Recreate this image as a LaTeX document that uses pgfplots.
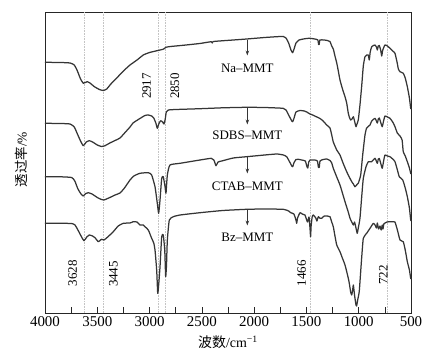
\documentclass[border=0pt]{standalone}
\usepackage{fontspec}
\setmainfont{Liberation Serif}
\newfontfamily\cjk{Noto Sans CJK SC}
\usepackage{pgfplots}
\pgfplotsset{compat=1.18}
\usetikzlibrary{arrows.meta}
\definecolor{curve}{HTML}{353535}
\definecolor{guide}{HTML}{C4C4C4}

\begin{document}
\begin{tikzpicture}
\begin{axis}[
 scale only axis, width=366bp, height=301bp,
 x dir=reverse, y dir=reverse,
 xmin=500, xmax=4000, ymin=12, ymax=313,
 xtick={500,1000,...,4000}, minor xtick={750,1250,...,3750},
 ytick=\empty,
 tick align=inside, xtick pos=bottom,
 major tick length=6bp, minor tick length=6bp,
 tick style={black!85, line width=0.6bp},
 axis line style={black!85, line width=0.6bp},
 every tick label/.append style={font=\fontsize{15}{17}\selectfont},
 /pgf/number format/assume math mode=true,
 /pgf/number format/1000 sep={},
 xlabel={{\cjk 波数}/cm\textsuperscript{−1}},
 ylabel={{\cjk 透过率}/\%},
 xlabel style={font=\fontsize{14}{16}\selectfont, at={(axis description cs:0.5,-0.0963)}, anchor=center},
 ylabel style={font=\fontsize{13.5}{16}\selectfont, at={(axis description cs:-0.064,0.51)}, anchor=center},
 clip=false,
]
% guide lines
\addplot[guide, densely dotted, line width=0.6bp] coordinates {(3628,12) (3628,313)};
\addplot[guide, densely dotted, line width=0.6bp] coordinates {(3445,12) (3445,313)};
\addplot[guide, densely dotted, line width=0.6bp] coordinates {(2917,12) (2917,313)};
\addplot[guide, densely dotted, line width=0.6bp] coordinates {(2850,12) (2850,313)};
\addplot[guide, densely dotted, line width=0.6bp] coordinates {(1466,12) (1466,313)};
\addplot[guide, densely dotted, line width=0.6bp] coordinates {(722,12) (722,313)};

% Na-MMT
\addplot[curve, line width=1.25bp, line join=round, smooth, tension=0.3] coordinates {
(4000,62.3) (3850,62.5) (3760,63) (3720,65) (3690,71) (3660,79) (3634,83.3) (3615,82.5) (3596,81.7) (3570,83) (3530,86.5) (3480,89.5) (3442,90.5) (3410,89) (3370,84) (3314,78) (3250,71) (3187,65) (3120,60) (3060,55) (3000,52.5) (2920,50.5) (2872,49.3) (2858,48.5) (2845,47.3) (2800,46.5) (2680,45.3) (2520,43.5) (2410,41.7) (2400,43) (2390,41.5) (2200,40) (2071,39) (1900,37.5) (1784,36.7) (1720,36.5) (1695,38) (1670,43) (1648,50) (1632,52.7) (1618,49) (1600,43) (1570,40) (1545,39.3) (1500,38.5) (1466,38.3) (1420,39) (1390,40) (1384,44.5) (1377,44.5) (1372,40) (1330,40) (1300,40.5) (1275,41.5) (1258,46) (1243,49) (1227,56) (1210,63) (1195,71) (1179,80) (1155,89) (1131,96.7) (1115,103) (1100,113) (1090,117) (1077,120) (1064,119) (1051,116.7) (1040,121) (1026,126.7) (1020,125) (1004,120) (988,105) (972,86.7) (956,66) (940,56.7) (924,55) (908,55) (899,60) (890,52) (876,46.7) (860,45.5) (844,45) (830,47) (822,50) (813,46) (803,45.5) (790,50) (780,56) (770,50) (749,45) (725,46) (701,48.3) (675,51) (653,53.3) (631,63.3) (621,69) (605,71.7) (574,73.3) (555,78) (535,86.7) (515,98) (503,108.3) (500,109)
};
% SDBS-MMT
\addplot[curve, line width=1.25bp, line join=round, smooth, tension=0.3] coordinates {
(4000,123.3) (3850,123.5) (3760,124) (3720,127) (3690,134) (3660,141) (3634,145.7) (3605,142) (3576,140.7) (3545,142) (3500,145) (3460,146.5) (3426,145.7) (3380,143) (3330,140.5) (3283,138) (3230,132) (3187,127) (3158,123) (3100,119) (3044,115.5) (3012,115) (2980,116) (2960,118) (2940,123) (2926,128.3) (2912,124) (2894,120.7) (2875,122) (2862,124) (2850,119) (2840,112) (2820,110) (2750,109.5) (2518,108.7) (2300,107.8) (2071,107.3) (1900,107.5) (1722,108.3) (1695,110) (1665,116) (1640,121) (1631,121.7) (1618,118) (1600,112) (1561,110.5) (1520,111) (1497,112) (1466,114) (1440,115) (1400,117) (1370,118.5) (1340,121) (1306,125) (1275,128) (1258,135) (1243,142) (1210,150) (1179,155) (1150,163) (1115,171.7) (1090,177) (1067,181.7) (1051,184) (1036,186.7) (1020,185) (1004,183.3) (981,175) (962,155) (940,135) (924,128) (892,125) (876,121) (844,118.3) (822,123) (813,119) (803,118) (785,124) (775,126.7) (760,120) (749,116) (725,117) (701,118.3) (675,122) (653,126.7) (631,133) (605,136) (585,140) (574,151.7) (555,156) (535,161.7) (515,168) (503,173.3) (500,174)
};
% CTAB-MMT
\addplot[curve, line width=1.25bp, line join=round, smooth, tension=0.3] coordinates {
(4000,176.7) (3850,176.8) (3745,177.5) (3715,181) (3685,189) (3655,194) (3634,196) (3610,193.5) (3586,192.7) (3550,194) (3500,197.5) (3460,199.5) (3436,200) (3390,198) (3330,195) (3283,193) (3240,188) (3187,180) (3150,176) (3092,173.3) (3012,172.7) (2980,175) (2948,186.7) (2926,203.3) (2913,213.3) (2900,200) (2884,178.3) (2869,176.7) (2852,186.7) (2843,193.3) (2830,175) (2805,165) (2709,163.3) (2518,160) (2410,158.3) (2385,160) (2365,165.7) (2345,162) (2310,161) (2200,158) (2071,156.7) (1900,155) (1784,154) (1720,155) (1689,156.7) (1660,162) (1640,166) (1631,166.7) (1620,163) (1600,159.5) (1578,159.3) (1545,160) (1510,161) (1497,166) (1487,168) (1478,162) (1466,160) (1450,160) (1420,160) (1395,161) (1385,167.5) (1377,167.5) (1370,161) (1340,159.5) (1306,159) (1275,160.5) (1258,163) (1243,168.3) (1210,177) (1179,185) (1150,195) (1131,201.7) (1100,212) (1083,218.3) (1067,222) (1051,225) (1040,222) (1026,228) (1014,233.3) (1004,228) (988,218.3) (970,195) (956,178.3) (930,166.7) (908,161.7) (876,161.7) (844,158.3) (822,163.3) (813,159) (803,158.5) (785,165) (775,168.3) (760,160) (749,155) (725,156) (701,156.7) (675,159) (653,161.7) (630,170) (612,176.7) (579,180) (555,188) (535,196.7) (515,208) (503,220) (500,221)
};
% Bz-MMT
\addplot[curve, line width=1.25bp, line join=round, smooth, tension=0.3] coordinates {
(4000,223.3) (3850,223.3) (3745,223.5) (3713,225) (3680,231) (3650,237) (3627,240.7) (3600,237) (3576,235) (3545,236) (3522,237.7) (3490,241.7) (3470,240) (3458,239.3) (3436,240) (3400,237) (3347,231.7) (3300,226) (3251,223.3) (3187,223) (3156,221.7) (3120,222) (3092,225) (3060,225) (3044,226.7) (3012,230) (2980,238.3) (2960,243) (2948,250) (2932,270) (2922,293.3) (2913,285) (2900,266.7) (2884,236.7) (2869,235) (2855,250) (2846,276.7) (2838,265) (2830,240) (2811,220) (2773,216.7) (2709,215) (2518,212.7) (2300,210.5) (2071,209.3) (1900,209) (1721,209.3) (1670,211) (1650,212.7) (1620,214) (1600,220) (1593,223.3) (1585,218) (1561,212.7) (1540,214) (1514,215) (1490,222) (1475,217) (1466,228) (1460,236.7) (1455,226) (1445,217) (1434,215) (1410,218) (1400,221) (1386,216.7) (1370,218.3) (1354,218.3) (1330,216) (1300,216) (1275,216.7) (1258,222) (1243,226.7) (1227,236) (1210,245) (1179,251.7) (1160,257) (1131,265) (1100,278) (1090,283.3) (1077,292) (1067,295) (1058,290) (1051,285) (1040,295) (1026,305) (1020,306) (1010,300) (995,291.7) (980,270) (972,258.3) (956,238.3) (924,233.3) (892,228.3) (860,223.3) (844,225) (830,228) (822,223) (810,229) (797,226) (785,230) (775,225) (768,229) (760,224) (749,223) (730,222) (701,221.7) (669,221.7) (653,222) (630,230) (605,240) (574,241.7) (555,250) (535,261.7) (515,270) (503,278.3) (500,279)
};

% arrows and sample labels
\draw[curve, line width=0.7bp, -{Stealth[length=5bp,width=3.5bp]}] (axis cs:2065,39.5) -- (axis cs:2065,55.5);
\draw[curve, line width=0.7bp, -{Stealth[length=5bp,width=3.5bp]}] (axis cs:2065,108) -- (axis cs:2065,124.5);
\draw[curve, line width=0.7bp, -{Stealth[length=5bp,width=3.5bp]}] (axis cs:2065,157) -- (axis cs:2065,173.5);
\draw[curve, line width=0.7bp, -{Stealth[length=5bp,width=3.5bp]}] (axis cs:2065,209.5) -- (axis cs:2065,225.5);
\node[font=\fontsize{13}{15}\selectfont] at (axis cs:2065,68.3) {Na--MMT};
\node[font=\fontsize{13}{15}\selectfont] at (axis cs:2065,135.5) {SDBS--MMT};
\node[font=\fontsize{13}{15}\selectfont] at (axis cs:2065,186) {CTAB--MMT};
\node[font=\fontsize{13}{15}\selectfont] at (axis cs:2065,237) {Bz--MMT};

% peak labels
\node[rotate=90, font=\fontsize{13}{15}\selectfont] at (axis cs:3027,86) {2917};
\node[rotate=90, font=\fontsize{13}{15}\selectfont] at (axis cs:2757,86) {2850};
\node[rotate=90, font=\fontsize{13}{15}\selectfont] at (axis cs:3735,273.3) {3628};
\node[rotate=90, font=\fontsize{13}{15}\selectfont] at (axis cs:3347,274) {3445};
\node[rotate=90, font=\fontsize{13}{15}\selectfont] at (axis cs:1545,273.3) {1466};
\node[rotate=90, font=\fontsize{13}{15}\selectfont] at (axis cs:765,275) {722};
\end{axis}
\pgfresetboundingbox
\path ([shift={(-45bp,-41bp)}]current axis.south west) rectangle ([shift={(36bp,12bp)}]current axis.north east);
\end{tikzpicture}
\end{document}
